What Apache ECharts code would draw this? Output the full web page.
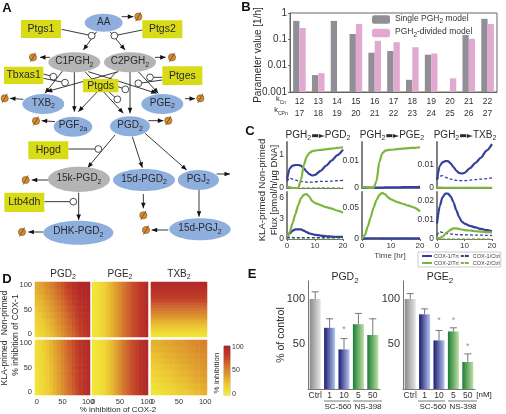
<!DOCTYPE html>
<html><head><meta charset="utf-8">
<style>html,body{margin:0;padding:0;background:#fff}#c{width:506px;height:414px}</style>
<script src="https://cdn.jsdelivr.net/npm/echarts@6/dist/echarts.min.js"></script>
</head><body><div id="c"></div>
<script>
// ---------- Panel B data ----------
const paramCn = ['12','13','14','15','16','17','18','19','20','21','22'];
const paramCPn = ['17','18','19','20','21','22','23','24','25','26','27'];
const singleModel = [0.5,0.0044,0.5,0.16,0.031,0.036,0.0029,0.026,null,0.145,0.6];
const dividedModel = [0.27,0.0052,null,0.38,0.088,0.078,0.05,0.029,0.0033,0.105,0.38];
// ---------- Panel C data ----------
const hours = [0,1,2,3,4,5,6,7,8,9,10,12,14,16,18,20];
const pgdTopC1T = [.25,.6,.68,.7,.7,.68,.6,.5,.42,.38,.4,.52,.68,.84,1.0,1.17];
const pgdTopC1C = [.2,.3,.27,.24,.22,.2,.19,.18,.18,.18,.19,.2,.2,.21,.22,.23];
const pgdTopC2T = [.05,.02,0,0,0,.25,.7,.95,1.07,1.12,1.14,1.16,1.18,1.2,1.22,1.24];
const pgdTopC2C = [.03,.02,.01,.01,.01,.01,.01,.01,.01,.01,.01,.01,.01,.01,.01,.01];
const pgdBotC1T = [.3,.8,1.2,1.4,1.4,1.4,1.2,1.0,.8,.7,.6,.5,.4,.35,.3,.3];
const pgdBotC1C = [.1,.25,.22,.2,.2,.2,.2,.2,.2,.2,.2,.2,.2,.2,.2,.2];
const pgdBotC2T = [.3,1.0,2.3,3.6,4.9,5.9,6.4,6.5,6.1,5.5,5.2,4.9,4.6,4.4,4.1,3.8];
const pgdBotC2C = [.05,.06,.06,.06,.06,.06,.06,.06,.06,.06,.06,.06,.06,.06,.06,.06];
const pgeTopC1T = [.0003,.0002,.0001,.0001,.0001,.0001,.0001,.0001,.0002,.0002,.0002,.0002,.0003,.0003,.0003,.0004];
const pgeTopC1C = [.0002,.0001,.0001,.0001,.0001,.0001,.0001,.0001,.0001,.0001,.0001,.0001,.0001,.0001,.0001,.0001];
const pgeTopC2T = [.0004,.0002,.0001,0,0,.0025,.0095,.0125,.0135,.0137,.0138,.014,.0142,.0144,.0145,.0147];
const pgeTopC2C = [.0002,.0001,0,0,0,0,0,0,0,0,0,0,0,0,0,0];
const pgeBotC1T = [.0005,.001,.0012,.0012,.0012,.0012,.0012,.001,.001,.001,.001,.001,.001,.001,.001,.001];
const pgeBotC1C = [.0002,.0003,.0003,.0003,.0003,.0003,.0003,.0003,.0003,.0003,.0003,.0003,.0003,.0003,.0003,.0003];
const pgeBotC2T = [.0005,.006,.02,.035,.05,.062,.07,.0735,.071,.066,.063,.059,.056,.053,.05,.044];
const pgeBotC2C = [.0001,.0002,.0002,.0002,.0002,.0002,.0002,.0002,.0002,.0002,.0002,.0002,.0002,.0002,.0002,.0002];
const txbTopC1T = [.0035,.0095,.011,.0115,.0115,.0105,.009,.0075,.0065,.0062,.0065,.0085,.0108,.013,.016,.0188];
const txbTopC1C = [.0035,.005,.0053,.0047,.0042,.0038,.0035,.0033,.0032,.0032,.0032,.0034,.0036,.0038,.004,.0043];
const txbTopC2T = [.0003,.0002,.0001,.0001,.0001,.0001,.0001,.0001,.0001,.0001,.0001,.0001,.0001,.0001,.0001,.0001];
const txbTopC2C = [.0001,.0001,.0001,.0001,.0001,.0001,.0001,.0001,.0001,.0001,.0001,.0001,.0001,.0001,.0001,.0001];
const txbBotC1T = [.008,.017,.0215,.0235,.0235,.022,.019,.015,.0115,.009,.008,.0068,.006,.0052,.0046,.004];
const txbBotC1C = [.002,.0038,.0034,.003,.0028,.0026,.0024,.0023,.0022,.0022,.0021,.0021,.002,.002,.0019,.0018];
const txbBotC2T = [.0003,.0005,.0012,.0025,.0038,.0048,.0055,.0055,.0052,.0049,.0046,.0044,.004,.0038,.0036,.0034];
const txbBotC2C = [.0001,.0001,.0001,.0001,.0001,.0001,.0001,.0001,.0001,.0001,.0001,.0001,.0001,.0001,.0001,.0001];
// ---------- Panel D data (rows bottom to top; columns left to right) ----------
const cox2Fine = ['0','7','14','21','29','36','43','50','57','64','71','79','86','93','100'];
const cox2Sweep = ['0','5','10','15','20','25','30','35','40','45','50','55','60','65','70','75','80','85','90','95','100'];
const cox1Levels = ['0','13','25','38','50','63','75','88','100'];
const cox1Sweep = ['0','4','7','11','15','19','22','26','30','33','37','41','44','48','52','56','59','63','67','70','74','78','81','85','89','93','96','100'];
const heatPgdNon = [
[8,11,15,20,25,31,37,44,51,58,65,72,79,85,90],
[11,14,18,23,28,34,40,47,54,61,68,75,82,87,91],
[14,17,21,26,32,37,44,50,57,64,71,78,84,89,93],
[17,20,25,30,35,41,47,54,60,67,74,81,87,91,94],
[20,24,28,33,39,45,51,57,64,71,77,84,89,93,95],
[24,27,32,37,42,48,54,61,67,74,81,87,91,94,96],
[27,31,35,40,46,52,58,64,71,78,84,90,93,95,97],
[31,34,38,44,49,55,61,68,75,81,87,92,95,97,98],
[34,37,42,47,53,59,65,71,78,84,90,94,97,98,99]];
const heatPgdKla = [
[4,7,11,16,22,29,36,44,52,60,68,76,83,89,93],
[4,7,12,17,23,30,37,45,53,61,69,77,84,89,93],
[5,8,12,18,24,31,38,46,54,62,70,78,84,90,94],
[5,8,13,18,25,32,39,47,55,63,71,78,85,90,94],
[6,9,14,19,26,33,40,48,56,64,72,79,85,91,94],
[6,10,14,20,27,34,41,49,57,65,72,80,86,91,95],
[7,10,15,21,28,35,42,50,58,66,73,81,87,91,95],
[7,11,16,22,29,36,43,51,59,67,74,81,87,92,95],
[8,12,17,23,30,37,44,52,60,68,75,82,88,92,96]];
const heatTxbKla = [
[2,4,6,8,10,12,14,16,18,20,22,24,26,28,30],
[5,7,9,11,13,15,17,19,21,23,25,27,29,31,33],
[9,11,13,15,17,19,21,23,25,27,29,31,33,35,37],
[13,14,16,18,20,22,24,26,28,30,32,34,36,38,40],
[16,18,20,21,23,25,27,29,31,33,35,37,39,41,43],
[20,22,23,25,27,29,30,32,34,36,38,39,41,43,45],
[23,25,27,28,30,32,33,35,37,38,40,42,44,46,47],
[27,28,30,31,33,35,36,38,39,41,43,44,46,48,49],
[30,31,33,34,36,37,39,41,42,44,45,47,48,50,52]];
// PGE panels change only along COX-2; TXB non-primed only along COX-1
const pgeNonByCox2 = [4,5,7,10,14,19,24,30,36,42,48,54,60,65,70,75,79,83,88,92,96];
const pgeKlaByCox2 = [2,3,5,7,10,15,21,27,33,40,47,54,60,66,71,76,81,85,89,93,97];
const txbNonByCox1 = [3,6,9,13,17,21,25,29,33,38,43,48,53,57,61,65,69,73,76,79,82,85,87,89,91,93,95,96];
const colorbarLevels = ['0','5','10','15','20','25','30','35','40','45','50','55','60','65','70','75','80','85','90','95','100'];
// ---------- Panel E data ----------
const treatments = ['Ctrl','1','10','5','50'];
const pgdControl = [100,68,44,72,60];
const pgdErrTop = [108,78,56,84,78];
const pgdStars = [null,null,66,null,null];
const pgeControl = [100,83,54,64,30];
const pgeErrTop = [106,89,65,68,39];
const pgeStars = [null,null,76,76,47];
// ---------- Panel A contents ----------
const metabolites = ['AA','C1PGH_2','C2PGH_2','TXB_2','PGE_2','PGF_2a','PGD_2','15k-PGD_2','15d-PGD_2','PGJ_2','15d-PGJ_2','DHK-PGD_2'];
const enzymes = ['Ptgs1','Ptgs2','Tbxas1','Ptges','Hpgd','Ltb4dh','Ptgds'];

// ---------- Layouts (diagram space = 3x page pixels) ----------
const nodeLayout = {
 'AA':[311,68,57,27,'b'],'C1PGH_2':[223,187,78,30,'g'],'C2PGH_2':[390,187,78,30,'g'],
 'TXB_2':[130,312,63,30,'b'],'PGE_2':[487,312,63,30,'b'],'PGF_2a':[219,380,58,30,'b'],'PGD_2':[390,379,60,30,'b'],
 '15k-PGD_2':[237,538,93,38,'g'],'15d-PGD_2':[432,540,93,33,'b'],'PGJ_2':[595,540,62,30,'b'],
 '15d-PGJ_2':[600,688,92,33,'b'],'DHK-PGD_2':[235,698,105,36,'b']};
const boxLayout = {'Ptgs1':[123,87,60,27],'Ptgs2':[487,88,60,27],'Tbxas1':[71,226,59,26],'Ptges':[547,227,60,28],
 'Hpgd':[145,451,60,27],'Ltb4dh':[73,607,60,29],'Ptgds':[302,257,53,20]};
const sinkLayout = [[415,50],[99,172],[516,172],[14,295],[601,295],[108,363],[505,362],[77,540],[430,646],[438,690],[66,696]];
const arrowLayout = [[290,95,250,150],[330,95,375,150],[365,50,400,50],[150,172,120,172],[465,172,497,172],
 [190,210,135,280],[223,212,223,335],[255,215,370,340],[265,215,470,280],[355,215,140,275],[350,215,235,335],
 [390,212,390,340],[415,215,475,280],[70,298,30,295],[555,296,585,296],[165,365,125,362],[445,362,490,362],
 [345,405,263,503],[397,410,427,503],[435,400,560,510],[145,540,95,540],[430,582,430,625],[650,522,690,522],
 [597,568,597,650],[505,690,455,690],[236,578,236,660],[130,696,85,696]];
const inhibitLayout = [[185,88,275,107],[427,90,343,107],[130,222,160,230],[130,235,195,248],[487,232,450,232],
 [487,240,415,250],[320,270,352,298],[340,255,376,268],[205,447,295,447],[133,605,220,605]];

const FF = '"Liberation Sans",Arial,sans-serif';
const INK = '#2a2a2a';
const richOf = (fs,fill) => ({
  a:{fontSize:fs,fontFamily:FF,fill,color:fill,padding:[0,0,Math.round(fs*.22),0],verticalAlign:'bottom'},
  s:{fontSize:Math.round(fs*.72),fontFamily:FF,fill,color:fill,verticalAlign:'bottom'},
  r:{fontSize:Math.round(fs*.8),fontFamily:'"DejaVu Sans"',fill,color:fill,padding:[0,0,Math.round(fs*.22),0],verticalAlign:'bottom'}
});
const rt = s => s.split('\n').map(l => l.replace(/([^_>]+)_([^_>]+)/g,'{a|$1}{s|$2}').replace(/>/g,'{r|▬►}')).join('\n');
const hasSub = s => /[_>]/.test(s);

// ---------- Helpers ----------
const grid=[], xAxis=[], yAxis=[], series=[], texts=[];
function addGrid(l,t,w,h,x,y,extra){const i=grid.length;grid.push(Object.assign({left:l,top:t,width:w,height:h,containLabel:false},extra||{}));x.gridIndex=i;y.gridIndex=i;xAxis.push(x);yAxis.push(y);return i;}
function T(x,y,text,o){o=o||{};const fs=o.fs||9,fill=o.fill||INK;
  const st={x:0,y:0,align:o.align||'center',verticalAlign:'middle',fill,fontSize:fs,fontFamily:FF,fontWeight:o.bold?'bold':'normal',lineHeight:o.lh||undefined};
  if(hasSub(text)){st.text=rt(text);st.rich=richOf(fs,fill);}else st.text=text;
  texts.push({type:'text',x,y,rotation:o.rot?Math.PI/2:0,style:st,silent:true,z:20});}
function L(x1,y1,x2,y2,c){texts.push({type:'line',shape:{x1,y1,x2,y2},style:{stroke:c||'#555',lineWidth:.8},silent:true,z:20});}

// ---------- Panel A: full-page hidden scale ----------
const dg = addGrid(0,0,506,414,
 {type:'value',min:0,max:1518,show:false},{type:'value',min:0,max:1242,inverse:true,show:false});
const base={xAxisIndex:dg,yAxisIndex:dg,silent:true,clip:false,animation:false};
function head(x1,y1,x2,y2,len,hw){const a=Math.atan2(y2-y1,x2-x1),c=Math.cos(a),s=Math.sin(a);
 return [[x2,y2],[x2-len*c+hw*s,y2-len*s-hw*c],[x2-len*c-hw*s,y2-len*s+hw*c]];}
series.push(Object.assign({},base,{type:'custom',name:'arrows',data:arrowLayout,z:3,
 renderItem(p,api){const a=arrowLayout[p.dataIndex],s=api.coord([a[0],a[1]]),e=api.coord([a[2],a[3]]);
  return {type:'group',children:[
   {type:'line',shape:{x1:s[0],y1:s[1],x2:e[0],y2:e[1]},style:{stroke:'#222',lineWidth:.9}},
   {type:'polygon',shape:{points:head(s[0],s[1],e[0],e[1],5.5,2.3)},style:{fill:'#111'}}]};}}));
series.push(Object.assign({},base,{type:'custom',name:'inhibitors',data:inhibitLayout,z:4,
 renderItem(p,api){const a=inhibitLayout[p.dataIndex],s=api.coord([a[0],a[1]]),e=api.coord([a[2],a[3]]);
  return {type:'group',children:[
   {type:'line',shape:{x1:s[0],y1:s[1],x2:e[0],y2:e[1]},style:{stroke:'#222',lineWidth:.9}},
   {type:'circle',shape:{cx:e[0],cy:e[1],r:3.4},style:{fill:'#fff',stroke:'#222',lineWidth:.8}}]};}}));
series.push(Object.assign({},base,{type:'custom',name:'sinks',data:sinkLayout,z:5,
 renderItem(p,api){const c=api.coord(sinkLayout[p.dataIndex]);
  return {type:'group',children:[
   {type:'circle',shape:{cx:c[0],cy:c[1],r:3.6},style:{fill:'#d88c2c',stroke:'#8a5c22',lineWidth:.7}},
   {type:'line',shape:{x1:c[0]-2.6,y1:c[1]+4.6,x2:c[0]+2.6,y2:c[1]-4.6},style:{stroke:'#5a4a3a',lineWidth:.8}}]};}}));
const nodeFill={b:'#8eaede',g:'#b4b4b6'};
const txt=(x,y,s,fs)=>({type:'text',style:{x,y,text:rt(s),rich:richOf(fs,INK),align:'center',verticalAlign:'middle',fontSize:fs,fontFamily:FF,fill:INK}});
series.push(Object.assign({},base,{type:'custom',name:'metabolites',z:6,data:metabolites.map(m=>nodeLayout[m].slice(0,2)),
 renderItem(p,api){const n=metabolites[p.dataIndex],q=nodeLayout[n],c=api.coord([q[0],q[1]]),s=api.size([q[2],q[3]]);
  return {type:'group',children:[
   {type:'ellipse',shape:{cx:c[0],cy:c[1],rx:s[0],ry:s[1]},style:{fill:nodeFill[q[4]]}},
   n.includes('_')?txt(c[0],c[1],n,10):{type:'text',style:{x:c[0],y:c[1],text:n,align:'center',verticalAlign:'middle',fontSize:10,fontFamily:FF,fill:INK}}]};}}));
series.push(Object.assign({},base,{type:'custom',name:'enzymes',z:7,data:enzymes.map(m=>boxLayout[m].slice(0,2)),
 renderItem(p,api){const n=enzymes[p.dataIndex],q=boxLayout[n],c=api.coord([q[0],q[1]]),s=api.size([q[2],q[3]]);
  return {type:'group',children:[
   {type:'rect',shape:{x:c[0]-s[0],y:c[1]-s[1],width:s[0]*2,height:s[1]*2},style:{fill:'#d9db17'}},
   {type:'text',style:{x:c[0],y:c[1],text:n,align:'center',verticalAlign:'middle',fontSize:10.5,fontFamily:FF,fill:INK}}]};}}));

// ---------- Panel B ----------
const gb = addGrid(290,13,207,79,
 {type:'category',data:paramCn.map((c,i)=>c+'\n'+paramCPn[i]),axisLine:{lineStyle:{color:'#666'}},axisTick:{show:false},
  axisLabel:{fontSize:8.5,lineHeight:12,color:'#333',fontFamily:FF,margin:4,interval:0}},
 {type:'log',logBase:10,min:0.001,max:1,startValue:0.001,splitLine:{show:false},axisLine:{show:true,onZero:false,lineStyle:{color:'#666'}},
  axisTick:{show:true,length:2,lineStyle:{color:'#666'}},minorTick:{show:false},
  axisLabel:{fontSize:10,color:'#333',fontFamily:FF,margin:3,formatter:v=>String(+(+v).toPrecision(1))}},
 {show:true,borderColor:'#666',borderWidth:1,backgroundColor:'transparent'});
series.push({type:'bar',name:'Single PGH2 model',data:singleModel,xAxisIndex:gb,yAxisIndex:gb,barWidth:6.3,barGap:'0%',itemStyle:{color:'#918e96'}});
series.push({type:'bar',name:'PGH2-divided model',data:dividedModel,xAxisIndex:gb,yAxisIndex:gb,barWidth:6.3,barGap:'0%',itemStyle:{color:'#e2a9d0'}});
T(258,55,'Parameter value [1/h]',{rot:1,fs:10});
T(281,100,'k_Cn',{fs:7.5});
T(281,111,'k_CPn',{fs:7.5});

// ---------- Panel C ----------
const C1T='COX-1/Trt',C1C='COX-1/Ctrl',C2T='COX-2/Trt',C2C='COX-2/Ctrl';
const cx=[[287,56],[362,58],[437,55]], cy=[[142,46],[192,47]];
const cPanels=[
 {c:0,r:0,max:1.4,int:1,lab:['0','1'],d:[pgdTopC1T,pgdTopC1C,pgdTopC2T,pgdTopC2C]},
 {c:0,r:1,max:6.8,int:3,lab:['0','3','6'],d:[pgdBotC1T,pgdBotC1C,pgdBotC2T,pgdBotC2C]},
 {c:1,r:0,max:.0166,int:.01,lab:['0','0.01'],d:[pgeTopC1T,pgeTopC1C,pgeTopC2T,pgeTopC2C]},
 {c:1,r:1,max:.0747,int:.05,lab:['0','0.05'],d:[pgeBotC1T,pgeBotC1C,pgeBotC2T,pgeBotC2C]},
 {c:2,r:0,max:.0197,int:.01,lab:['0','0.01'],d:[txbTopC1T,txbTopC1C,txbTopC2T,txbTopC2C]},
 {c:2,r:1,max:.0243,int:.01,lab:['0','0.01','0.02'],d:[txbBotC1T,txbBotC1C,txbBotC2T,txbBotC2C]}];
const cStyle=[[C1T,'#34409a',2.2,'solid'],[C1C,'#34409a',1.3,[3,2]],[C2T,'#7db53f',2.2,'solid'],[C2C,'#7db53f',1,[3,2]]];
cPanels.forEach(p=>{
 const g=addGrid(cx[p.c][0],cy[p.r][0],cx[p.c][1],cy[p.r][1],
  {type:'value',min:0,max:20,interval:10,axisLine:{show:true,onZero:false,lineStyle:{color:'#777',width:1}},splitLine:{show:false},
   axisTick:{show:p.r===1,length:2,lineStyle:{color:'#666'}},
   axisLabel:{show:p.r===1,fontSize:8,color:'#333',fontFamily:FF,margin:3}},
  {type:'value',min:0,max:p.max,interval:p.int,splitLine:{show:false},axisTick:{show:false},
   axisLine:{show:true,onZero:false,lineStyle:{color:'#808080',width:2}},
   axisLabel:{fontSize:8.5,color:'#333',fontFamily:FF,margin:3,showMaxLabel:false,
    formatter:v=>{const s=String(+(+v).toPrecision(3));return p.lab.includes(s)?s:'';}}});
 cStyle.forEach((s,i)=>series.push({type:'line',name:s[0],xAxisIndex:g,yAxisIndex:g,symbol:'none',showSymbol:false,
  smooth:.25,smoothMonotone:'x',clip:false,data:hours.map((h,k)=>[h,p.d[i][k]]),z:i%2?3:4,
  lineStyle:{color:s[1],width:s[2],type:s[3]},itemStyle:{color:s[1]}}));
});
T(318,136,'PGH_2>PGD_2',{fs:10});T(392,136,'PGH_2>PGE_2',{fs:10});T(465,136,'PGH_2>TXB_2',{fs:10});
T(262,190,'KLA-primed Non-primed',{rot:1,fs:9.5});T(274,190,'Flux [pmol/h/µg DNA]',{rot:1,fs:9.5});
T(390,256,'Time [hr]',{fs:8,fill:'#444'});

// ---------- Panel D ----------
const dCols=[[35,55],[92,56],[151,56]], dRows=[[282,55],[340,55]];
const asColumn=a=>a.map(v=>[v]);
const heatmaps=[
 {c:0,r:0,m:heatPgdNon,xc:cox2Fine,yc:cox1Levels,xi:6,yi:3},
 {c:1,r:0,m:[pgeNonByCox2],xc:cox2Sweep,yc:['0-100'],xi:9,yi:0},
 {c:2,r:0,m:asColumn(txbNonByCox1),xc:['0-100'],yc:cox1Sweep,xi:0,yi:0},
 {c:0,r:1,m:heatPgdKla,xc:cox2Fine,yc:cox1Levels,xi:6,yi:3},
 {c:1,r:1,m:[pgeKlaByCox2],xc:cox2Sweep,yc:['0-100'],xi:9,yi:0},
 {c:2,r:1,m:heatTxbKla,xc:cox2Fine,yc:cox1Levels,xi:6,yi:3}];
const heatIdx=[];
heatmaps.forEach(h=>{
 const g=addGrid(dCols[h.c][0],dRows[h.r][0],dCols[h.c][1],dRows[h.r][1],
  {type:'category',data:h.xc,axisLine:{show:false},axisTick:{show:false},splitLine:{show:false},
   axisLabel:{show:h.r===1,interval:h.xi,fontSize:7.5,color:'#333',fontFamily:FF,margin:3}},
  {type:'category',data:h.yc,axisLine:{show:false},axisTick:{show:false},splitLine:{show:false},
   axisLabel:{show:h.c===0,interval:h.yi,fontSize:7.5,color:'#333',fontFamily:FF,margin:3}});
 heatIdx.push(series.length);
 const data=[];h.m.forEach((row,y)=>row.forEach((v,x)=>data.push([x,y,v])));
 series.push({type:'heatmap',name:'inhibition',xAxisIndex:g,yAxisIndex:g,data,itemStyle:{borderWidth:0},progressive:0});
});
const gc=addGrid(224,346,6,49,
 {type:'category',data:[''],show:false},
 {type:'category',data:colorbarLevels,position:'right',axisLine:{show:false},axisTick:{show:false},
  axisLabel:{interval:9,fontSize:7,color:'#333',fontFamily:FF,margin:2}},{show:true,borderColor:'#999',borderWidth:.6});
heatIdx.push(series.length);
series.push({type:'heatmap',name:'scale',xAxisIndex:gc,yAxisIndex:gc,data:colorbarLevels.map((v,i)=>[0,i,+v]),progressive:0});
T(63,275,'PGD_2',{fs:10});T(120,275,'PGE_2',{fs:10});T(179,275,'TXB_2',{fs:10});
T(5,313,'Non-primed',{rot:1,fs:8.5});T(5,363,'KLA-primed',{rot:1,fs:8.5});
T(16,335,'% inhibition of COX-1',{rot:1,fs:8.5});T(118,410,'% inhibition of COX-2',{fs:8});
T(217,373,'% inhibition',{rot:1,fs:8});

// ---------- Panel E ----------
const grad=(a,b)=>({type:'linear',x:0,y:0,x2:1,y2:0,colorStops:[{offset:0,color:a},{offset:1,color:b}]});
const eFill=[grad('#8a8a8a','#e4e4e4'),grad('#1b1b70','#b4c4f0'),grad('#1b1b70','#b4c4f0'),grad('#1c7c34','#bfe0a4'),grad('#1c7c34','#bfe0a4')];
function panelE(left,vals,errs,stars){
 const g=addGrid(left,281,72,108,
  {type:'category',data:treatments,axisLine:{lineStyle:{color:'#777'}},axisTick:{show:false},
   axisLabel:{interval:0,fontSize:8.5,color:'#333',fontFamily:FF,margin:2}},
  {type:'value',min:0,max:120,interval:50,splitLine:{show:false},axisTick:{show:false},
   axisLine:{show:true,lineStyle:{color:'#777'}},
   axisLabel:{fontSize:11,color:'#333',fontFamily:FF,margin:3,showMaxLabel:false,formatter:v=>(v===50||v===100)?String(v):''}});
 series.push({type:'bar',name:'control',xAxisIndex:g,yAxisIndex:g,barWidth:11,
  data:vals.map((v,i)=>({value:v,itemStyle:{color:eFill[i]}}))});
 series.push({type:'custom',name:'error',xAxisIndex:g,yAxisIndex:g,silent:true,z:3,data:vals.map((v,i)=>[i,v,errs[i]]),
  renderItem(p,api){const a=api.coord([api.value(0),api.value(1)]),b=api.coord([api.value(0),api.value(2)]);
   const st={stroke:'#777',lineWidth:1};
   return {type:'group',children:[{type:'line',shape:{x1:a[0],y1:a[1],x2:a[0],y2:b[1]},style:st},
    {type:'line',shape:{x1:a[0]-3.5,y1:b[1],x2:a[0]+3.5,y2:b[1]},style:st}]};}});
 series.push({type:'scatter',name:'sig',xAxisIndex:g,yAxisIndex:g,symbolSize:0,silent:true,
  data:stars.map((v,i)=>v==null?null:[i,v]).filter(Boolean),
  label:{show:true,position:'inside',formatter:'*',fontSize:9,color:'#777',fontFamily:FF}});
}
panelE(308,pgdControl,pgdErrTop,pgdStars);
panelE(403,pgeControl,pgeErrTop,pgeStars);
T(345,278,'PGD_2',{fs:10.5});T(440,278,'PGE_2',{fs:10.5});
T(281,335,'% of control',{rot:1,fs:10.5});
L(324,401,350,401);L(353,401,382,401);L(418,401,445,401);L(448,401,477,401);
T(338,407,'SC-560',{fs:8});T(368,407,'NS-398',{fs:8});T(433,407,'SC-560',{fs:8});T(463,407,'NS-398',{fs:8});
T(484,395,'[nM]',{fs:8});

// ---------- Panel letters ----------
[['A',7,8],['B',246,7],['C',250,131],['D',7,279],['E',252,274]].forEach(a=>T(a[1],a[2],a[0],{fs:13,bold:1,fill:'#111'}));

const legendRich={a:{fontSize:8.5,fontFamily:FF,color:'#333',padding:[0,0,2,0],verticalAlign:'bottom'},s:{fontSize:6.5,fontFamily:FF,color:'#333',verticalAlign:'bottom'}};
const chart=echarts.init(document.getElementById('c'),null,{renderer:'canvas',width:506,height:414});
chart.setOption({
 animation:false,backgroundColor:'#fff',textStyle:{fontFamily:FF},
 grid,xAxis,yAxis,series,
 graphic:{elements:texts},
 visualMap:{show:false,min:0,max:100,seriesIndex:heatIdx,
  inRange:{color:['#f2ea38','#ecc832','#de9c2e','#d2702c','#c24028','#ae2428']}},
 legend:[
  {left:372,top:14,orient:'vertical',itemWidth:18,itemHeight:8.5,itemGap:2.5,padding:0,selectedMode:false,
   data:['Single PGH2 model','PGH2-divided model'],
   formatter:n=>n==='Single PGH2 model'?'{a|Single PGH}{s|2}{a| model}':'{a|PGH}{s|2}{a|-divided model}',
   textStyle:{rich:legendRich,padding:0}},
  {left:418,top:252,width:88,itemWidth:10,itemHeight:3,itemGap:1,padding:[1,1,1,3],borderColor:'#aaa',borderWidth:.6,selectedMode:false,
   data:[C1T,C1C,C2T,C2C],textStyle:{fontSize:5.5,color:'#444',fontFamily:FF,padding:[0,0,0,-3]}}
 ]
});
</script></body></html>
